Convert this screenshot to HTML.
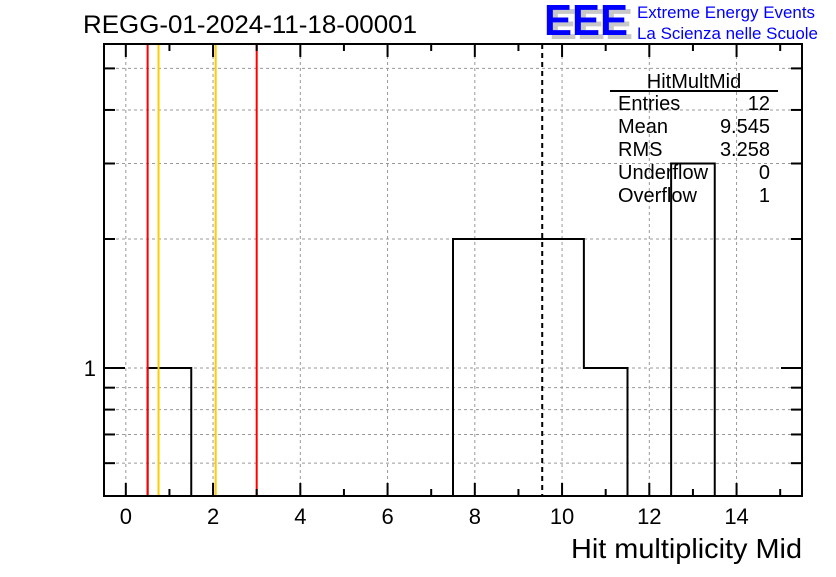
<!DOCTYPE html>
<html><head><meta charset="utf-8"><style>
body{margin:0;background:#fff}
svg text{font-family:"Liberation Sans",Arial,sans-serif}
</style></head><body>
<svg id="c" width="836" height="572" viewBox="0 0 836 572" xmlns="http://www.w3.org/2000/svg">
<rect width="836" height="572" fill="#fff"/>
<text x="83" y="33" font-size="25" textLength="334" lengthAdjust="spacingAndGlyphs">REGG-01-2024-11-18-00001</text>
<g>
<text x="549" y="39" font-size="44" font-weight="bold" fill="#c8c8c8" textLength="84" lengthAdjust="spacingAndGlyphs">EEE</text>
<text x="544" y="35" font-size="44" font-weight="bold" fill="#0000ff" textLength="84" lengthAdjust="spacingAndGlyphs">EEE</text>
<text x="637" y="18" font-size="17" fill="#0000ff" textLength="178" lengthAdjust="spacingAndGlyphs">Extreme Energy Events</text>
<text x="637" y="39" font-size="17" fill="#0000ff" textLength="181" lengthAdjust="spacingAndGlyphs">La Scienza nelle Scuole</text>
</g>
<g id="grid"></g>
<g id="marks"></g>
<g id="axes"></g>
<g font-size="20">
<text x="694" y="88" text-anchor="middle">HitMultMid</text>
<line x1="610" y1="91" x2="778" y2="91" stroke="#000" stroke-width="2"/>
<text x="618" y="110">Entries</text><text x="770" y="110" text-anchor="end">12</text>
<text x="618" y="133">Mean</text><text x="770" y="133" text-anchor="end">9.545</text>
<text x="618" y="156">RMS</text><text x="770" y="156" text-anchor="end">3.258</text>
<text x="618" y="179">Underflow</text><text x="770" y="179" text-anchor="end">0</text>
<text x="618" y="202">Overflow</text><text x="770" y="202" text-anchor="end">1</text>
</g>
<text x="802" y="558" font-size="28" text-anchor="end" textLength="231" lengthAdjust="spacingAndGlyphs">Hit multiplicity Mid</text>
</svg>
<script>
const binLow=[0.5,7.5,8.5,9.5,10.5,12.5];
const binCounts=[1,2,2,2,1,3];
const redLines=[0.5,3.0];
const orangeLines=[0.75,2.06];
const meanValue=9.545;
const xTickLabels=[0,2,4,6,8,10,12,14];
const yGridValues=[0.6,0.7,0.8,0.9,1,2,3,4,5];
const yTickLabels=[1];
const X0=104,X1=802,Y0=44,Y1=496,xmin=-0.5,xmax=15.5,ymin=0.503,ymax=5.7;
const NS="http://www.w3.org/2000/svg";
const sx=v=>X0+(v-xmin)/(xmax-xmin)*(X1-X0);
const sy=v=>Y1-(Math.log10(v)-Math.log10(ymin))/(Math.log10(ymax)-Math.log10(ymin))*(Y1-Y0);
function mk(p,t,a){const e=document.createElementNS(NS,t);for(const k in a)e.setAttribute(k,a[k]);document.getElementById(p).appendChild(e);return e;}
xTickLabels.forEach(v=>{const e=mk('grid','line',{x1:sx(v),x2:sx(v),y1:Y0,y2:Y1,stroke:'#999','stroke-dasharray':'3,3'});

});
yGridValues.forEach(v=>{const e=mk('grid','line',{x1:X0,x2:X1,y1:sy(v),y2:sy(v),stroke:'#999','stroke-dasharray':'3,3'});

});
let d='M'+sx(binLow[0])+','+Y1;
binLow.forEach((lo,i)=>{const y=sy(binCounts[i]);d+=' L'+sx(lo)+','+y+' L'+sx(lo+1)+','+y;
const nxt=binLow[i+1];if(nxt===undefined||nxt!==lo+1){d+=' L'+sx(lo+1)+','+Y1;if(nxt!==undefined)d+=' M'+sx(nxt)+','+Y1;}});
const h=mk('marks','path',{d:d,fill:'none',stroke:'#000','stroke-width':2});


redLines.forEach(v=>{const e=mk('marks','line',{x1:sx(v),x2:sx(v),y1:Y0,y2:Y1,stroke:'#ff0000','stroke-width':2});

});
orangeLines.forEach(v=>{const e=mk('marks','line',{x1:sx(v),x2:sx(v),y1:Y0,y2:Y1,stroke:'#ffcc00','stroke-width':2});

});
const m=mk('marks','line',{x1:sx(meanValue),x2:sx(meanValue),y1:Y0,y2:Y1,stroke:'#000','stroke-width':2,'stroke-dasharray':'5,4'});


const f=mk('axes','rect',{x:X0,y:Y0,width:X1-X0,height:Y1-Y0,fill:'none',stroke:'#000','stroke-width':2});


for(let v=0;v<=15;v++){const L=(v%2===0)?13:7;
mk('axes','line',{x1:sx(v),x2:sx(v),y1:Y1,y2:Y1-L,stroke:'#000','stroke-width':2});
mk('axes','line',{x1:sx(v),x2:sx(v),y1:Y0,y2:Y0+L,stroke:'#000','stroke-width':2});}
xTickLabels.forEach(v=>{const t=mk('axes','text',{x:sx(v),y:524,'font-size':22,'text-anchor':'middle'});t.textContent=v;

});
yGridValues.forEach(v=>{const L=(v===1)?21:11;
mk('axes','line',{x1:X0,x2:X0+L,y1:sy(v),y2:sy(v),stroke:'#000','stroke-width':2});
mk('axes','line',{x1:X1,x2:X1-L,y1:sy(v),y2:sy(v),stroke:'#000','stroke-width':2});});
yTickLabels.forEach(v=>{const t=mk('axes','text',{x:96,y:sy(v)+8,'font-size':22,'text-anchor':'end'});t.textContent=v;

});
</script>
</body></html>
